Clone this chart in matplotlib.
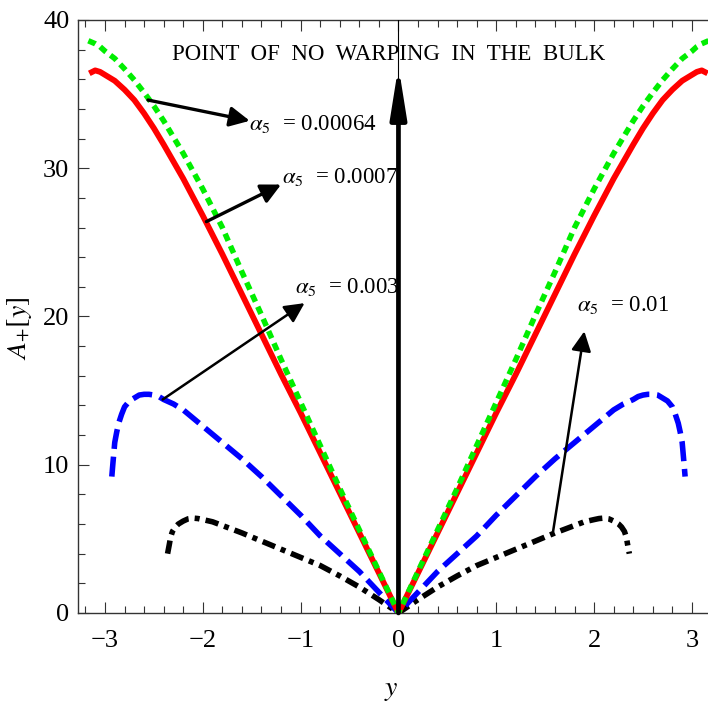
import matplotlib
matplotlib.use("Agg")
import matplotlib.pyplot as plt
import numpy as np
from matplotlib.ticker import MultipleLocator

plt.rcParams['font.family'] = ['Liberation Serif', 'DejaVu Serif']
plt.rcParams['mathtext.fontset'] = 'stix'

# right half of each curve (curves are symmetric in y)
y_green = [0, 0.2, 0.4, 0.6, 0.8, 1.0, 1.2, 1.4, 1.6, 1.8, 2.0, 2.2, 2.4, 2.5, 2.6, 2.7, 2.8, 2.9, 3.0, 3.05, 3.1, 3.17]
a_green = [0, 2.8, 5.6, 8.4, 11.3, 14.2, 17.1, 20.1, 23.0, 26.0, 28.6, 31.0, 33.2, 34.2, 35.1, 35.95, 36.7, 37.4, 37.9, 38.2, 38.4, 38.6]

y_red = [0, 0.2, 0.4, 0.6, 0.8, 1.0, 1.2, 1.4, 1.6, 1.8, 2.0, 2.2, 2.4, 2.5, 2.6, 2.7, 2.8, 2.9, 3.0, 3.05, 3.1, 3.16]
a_red = [0, 2.7, 5.4, 8.1, 10.8, 13.5, 16.1, 18.8, 21.5, 24.2, 26.8, 29.3, 31.6, 32.7, 33.7, 34.6, 35.3, 35.9, 36.3, 36.5, 36.6, 36.4]

y_blue = [0, 0.2, 0.4, 0.6, 0.8, 1.0, 1.2, 1.4, 1.6, 1.8, 2.0, 2.2, 2.3, 2.4, 2.45, 2.5, 2.55, 2.6, 2.65, 2.7, 2.75,
          2.8, 2.83, 2.86, 2.88, 2.9, 2.92, 2.93]
a_blue = [0, 1.4, 2.8, 4.0, 5.2, 6.6, 7.9, 9.2, 10.4, 11.5, 12.6, 13.7, 14.1, 14.4, 14.6, 14.7, 14.75, 14.75, 14.7, 14.5, 14.3,
          13.9, 13.4, 12.8, 12.2, 11.5, 10.0, 9.2]

y_black = [0, 0.2, 0.4, 0.6, 0.8, 1.0, 1.2, 1.4, 1.6, 1.8, 1.9, 2.0, 2.05, 2.1, 2.15, 2.2, 2.25, 2.28, 2.31, 2.33, 2.34, 2.36]
a_black = [0, 0.9, 1.75, 2.5, 3.2, 3.75, 4.3, 4.85, 5.4, 5.9, 6.15, 6.3, 6.37, 6.4, 6.35, 6.2, 6.0, 5.8, 5.5, 5.1, 4.7, 4.0]

labels = [r'$\alpha_5$  = 0.00064', r'$\alpha_5$  = 0.0007', r'$\alpha_5$  = 0.003', r'$\alpha_5$  = 0.01']


def mirror(x, v):
    x = np.array(x)
    v = np.array(v)
    return np.concatenate([-x[::-1], x[1:]]), np.concatenate([v[::-1], v[1:]])


fig = plt.figure(figsize=(7.08, 7.04), dpi=100)
ax = fig.add_axes([0.1097, 0.1293, 0.8903, 0.8423])

x, v = mirror(y_black, a_black)
ax.plot(x, v, color='black', lw=4.0, linestyle=(0, (2.4, 1.1, 0.9, 1.1)), dash_capstyle='butt',
        solid_joinstyle='round', zorder=2)
x, v = mirror(y_blue, a_blue)
ax.plot(x, v, color='#0000ff', lw=4.0, linestyle=(0, (3.6, 1.4)), dash_capstyle='butt', zorder=2)
x, v = mirror(y_red, a_red)
ax.plot(x, v, color='#ff0000', lw=4.2, solid_capstyle='butt', solid_joinstyle='round', zorder=3)
x, v = mirror(y_green, a_green)
ax.plot(x, v, color='#00ee00', lw=4.0, linestyle=(0, (1.4, 1.0)), dash_capstyle='butt', zorder=4)

ax.set_xlim(-3.279, 3.164)
ax.set_ylim(0, 40)

# arrows and labels
arr = dict(arrowstyle='-|>', color='black', lw=2.4, mutation_scale=30, shrinkA=0, shrinkB=0)
arr_thin = dict(arrowstyle='-|>', color='black', lw=1.8, mutation_scale=30, shrinkA=0, shrinkB=0)
lab_fs = 16.5
ax.annotate('', xy=(-1.52, 33.2), xytext=(-2.56, 34.6), arrowprops=arr, zorder=6)
ax.text(-1.53, 33.0, labels[0], fontsize=lab_fs, ha='left', va='center')
ax.annotate('', xy=(-1.2, 28.9), xytext=(-1.963, 26.4), arrowprops=arr, zorder=6)
ax.text(-1.19, 29.4, labels[1], fontsize=lab_fs, ha='left', va='center')
ax.annotate('', xy=(-0.96, 20.9), xytext=(-2.41, 14.4), arrowprops=arr_thin, zorder=6)
ax.text(-1.06, 22.0, labels[2], fontsize=lab_fs, ha='left', va='center')
ax.annotate('', xy=(1.9, 19.0), xytext=(1.58, 5.48), arrowprops=arr_thin, zorder=6)
ax.text(1.83, 20.8, labels[3], fontsize=lab_fs, ha='left', va='center')

# central arrow, with a thin line continuing to the top frame
ax.plot([0, 0], [34.5, 40], color='black', lw=0.8, zorder=7)
ax.annotate('', xy=(0, 36.9), xytext=(0, 0), zorder=6,
            arrowprops=dict(arrowstyle='-|>,head_length=1.0,head_width=0.16', color='black', lw=3.4,
                            mutation_scale=30, shrinkA=0, shrinkB=0))
ax.text(-0.1, 37.7, 'POINT  OF  NO  WARPING  IN  THE  BULK', fontsize=16.5, ha='center', va='center')

# frame
for s in ['left', 'bottom', 'top']:
    ax.spines[s].set_linewidth(1.0)
    ax.spines[s].set_color('#333333')
ax.spines['right'].set_visible(False)

ax.xaxis.set_major_locator(MultipleLocator(1))
ax.xaxis.set_minor_locator(MultipleLocator(0.2))
ax.yaxis.set_major_locator(MultipleLocator(10))
ax.yaxis.set_minor_locator(MultipleLocator(2))
ax.tick_params(which='both', direction='in', top=True, right=False, color='#333333', width=0.8)
ax.tick_params(which='major', length=8, labelsize=19)
ax.tick_params(which='minor', length=5)
ax.tick_params(axis='x', which='major', pad=12)
ax.tick_params(axis='y', which='major', pad=6)

ax.set_xlabel(r'$y$', fontsize=20)
ax.xaxis.set_label_coords(0.497, -0.11)
ax.set_ylabel(r'$A_{+}[y]$', fontsize=20)
ax.yaxis.set_label_coords(-0.07, 0.48)

fig.savefig('out.png', dpi=100)
